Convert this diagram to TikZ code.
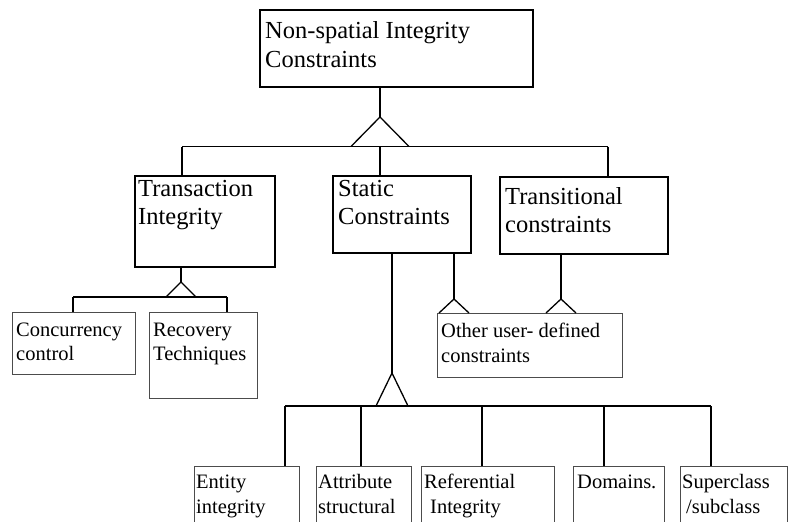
\documentclass[tikz,border=0pt]{standalone}
\usepackage{fontspec}
\setmainfont{Liberation Serif}
\begin{document}
\begin{tikzpicture}[x=1pt,y=-1pt,
  bigbox/.style={draw=black, line width=1.5pt, inner sep=0pt, outer sep=0pt},
  smallbox/.style={draw=black!70, line width=0.9pt, inner sep=0pt, outer sep=0pt},
  conn/.style={draw=black, line width=1.3pt},
  tri/.style={draw=black, line width=1.3pt, line join=miter},
  bigtxt/.style={anchor=base west, inner sep=0pt, font=\fontsize{24.5}{29}\selectfont},
  smalltxt/.style={anchor=base west, inner sep=0pt, font=\fontsize{20.5}{25}\selectfont}]
\clip (0,0) rectangle (788,522);
\fill[white] (0,0) rectangle (788,522);
% boxes
\node[bigbox, minimum width=273pt, minimum height=77pt] (top) at (396.5,48.5) {};
\node[bigbox, minimum width=140pt, minimum height=91pt] (trans) at (205,221.5) {};
\node[bigbox, minimum width=138pt, minimum height=77pt] (static) at (402,214.5) {};
\node[bigbox, minimum width=168pt, minimum height=77pt] (transit) at (584,215.5) {};
\node[smallbox, minimum width=123pt, minimum height=62pt] (conc) at (73.5,343) {};
\node[smallbox, minimum width=108pt, minimum height=86pt] (recov) at (203,355) {};
\node[smallbox, minimum width=185pt, minimum height=64pt] (other) at (529.5,345) {};
\node[smallbox, minimum width=105pt, minimum height=80pt] (entity) at (246.5,506) {};
\node[smallbox, minimum width=95pt, minimum height=80pt] (attr) at (363.5,506) {};
\node[smallbox, minimum width=133pt, minimum height=80pt] (ref) at (487.5,506) {};
\node[smallbox, minimum width=91pt, minimum height=80pt] (dom) at (618.5,506) {};
\node[smallbox, minimum width=107pt, minimum height=80pt] (super) at (733.5,506) {};
% texts
\node[bigtxt] (t1a) at (265,38) {Non-spatial Integrity};
\node[bigtxt] (t1b) at (265,67) {Constraints};
\node[bigtxt] (t2a) at (138,196) {Transaction};
\node[bigtxt] (t2b) at (138,224) {Integrity};
\node[bigtxt] (t3a) at (338,196) {Static};
\node[bigtxt] (t3b) at (338,224) {Constraints};
\node[bigtxt] (t4a) at (505,204) {Transitional};
\node[bigtxt] (t4b) at (505,232) {constraints};
\node[smalltxt] (t5a) at (16,336) {Concurrency};
\node[smalltxt] (t5b) at (16,360) {control};
\node[smalltxt] (t6a) at (153,336) {Recovery};
\node[smalltxt] (t6b) at (153,360) {Techniques};
\node[smalltxt] (t7a) at (441,337) {Other user- defined};
\node[smalltxt] (t7b) at (441,362) {constraints};
\node[smalltxt] (t8a) at (196,488) {Entity};
\node[smalltxt] (t8b) at (196,513) {integrity};
\node[smalltxt] (t9a) at (318,488) {Attribute};
\node[smalltxt] (t9b) at (318,513) {structural};
\node[smalltxt] (t10a) at (424,488) {Referential};
\node[smalltxt] (t10b) at (430,513) {Integrity};
\node[smalltxt] (t11a) at (577,488) {Domains.};
\node[smalltxt] (t12a) at (682,488) {Superclass};
\node[smalltxt] (t12b) at (686,513) {/subclass};
% level 1 connector
\coordinate (a1) at (380,117);
\coordinate (b1) at (182,146.5);
\coordinate (b2) at (608,146.5);
\draw[conn] (a1 |- top.south) -- (a1);
\draw[conn] (b1) -- (b2);
\draw[tri] (351,146.5) -- (a1) -- (409,146.5);
\draw[conn] (b1) -- (b1 |- trans.north);
\draw[conn] (b2) -- (b2 |- transit.north);
\draw[conn] (a1 |- b1) -- (a1 |- static.north);
% transaction children
\coordinate (a2) at (181,282);
\coordinate (b3) at (73,297);
\coordinate (b4) at (227,297);
\draw[conn] (a2 |- trans.south) -- (a2);
\draw[conn] (b3) -- (b4);
\draw[tri] (166,297) -- (a2) -- (196,297);
\draw[conn] (b3) -- (b3 |- conc.north);
\draw[conn] (b4) -- (b4 |- recov.north);
% static children
\coordinate (a3) at (392,373);
\coordinate (b5) at (285,406);
\coordinate (b6) at (711,406);
\draw[conn] (a3 |- static.south) -- (a3);
\draw[conn] (b5) -- (b6);
\draw[tri] (376,406) -- (a3) -- (408,406);
\draw[conn] (b5) -- (b5 |- entity.north);
\draw[conn] (361,406) coordinate (b7) -- (b7 |- attr.north);
\draw[conn] (482,406) coordinate (b8) -- (b8 |- ref.north);
\draw[conn] (604,406) coordinate (b9) -- (b9 |- dom.north);
\draw[conn] (b6) -- (b6 |- super.north);
% other user-defined
\coordinate (a4) at (454,299);
\coordinate (a5) at (561,299);
\draw[conn] (a4 |- static.south) -- (a4);
\draw[tri] (439,313) -- (a4) -- (469,313);
\draw[conn] (a5 |- transit.south) -- (a5);
\draw[tri] (546,313) -- (a5) -- (576,313);
\end{tikzpicture}
\end{document}
